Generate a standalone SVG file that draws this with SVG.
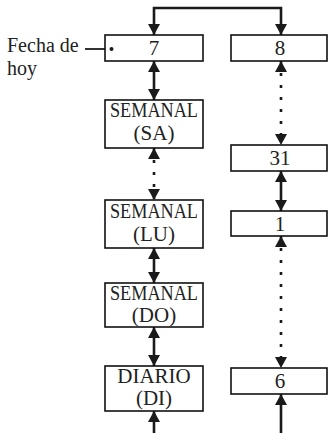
<svg xmlns="http://www.w3.org/2000/svg" width="328" height="433" viewBox="0 0 328 433">
<style>
.box{fill:#fff;stroke:#111;stroke-width:1.6}
.t{font-family:"Liberation Serif","Times New Roman",serif;font-size:21px;fill:#222;text-anchor:middle}
.lbl{font-family:"Liberation Serif","Times New Roman",serif;font-size:20px;fill:#222}
.c{fill:none;stroke:#1a1a1a;stroke-width:2.6}
.dot{stroke-dasharray:3 9}
</style>
<defs>
<marker id="ah" viewBox="0 0 12 12" refX="11" refY="6" markerWidth="12" markerHeight="12" markerUnits="userSpaceOnUse" orient="auto-start-reverse">
<path d="M0,0 L11,6 L0,12 z" fill="#1a1a1a"/>
</marker>
</defs>
<rect width="328" height="433" fill="#fff"/>
<g id="connectors">
<path class="c" d="M154,35 V8 H281 V35" marker-start="url(#ah)" marker-end="url(#ah)"/>
<path class="c" d="M154,61 V100" marker-start="url(#ah)" marker-end="url(#ah)"/>
<path class="c dot" d="M154,148 V200" marker-start="url(#ah)" marker-end="url(#ah)"/>
<path class="c" d="M154,248 V283" marker-start="url(#ah)" marker-end="url(#ah)"/>
<path class="c" d="M154,327 V366" marker-start="url(#ah)" marker-end="url(#ah)"/>
<path class="c" d="M154,440 V411" marker-end="url(#ah)"/>
<path class="c dot" d="M281,61 V145" marker-start="url(#ah)" marker-end="url(#ah)"/>
<path class="c" d="M281,171 V211" marker-start="url(#ah)" marker-end="url(#ah)"/>
<path class="c dot" d="M281,236 V368" marker-start="url(#ah)" marker-end="url(#ah)"/>
<path class="c" d="M281,440 V394" marker-end="url(#ah)"/>
<path d="M85,49 H111" stroke="#1a1a1a" stroke-width="1.8"/>
</g>
<g id="fecha">
<text class="lbl" x="7" y="52">Fecha de</text>
<text class="lbl" x="7" y="75">hoy</text>
</g>
<g id="n7"><rect class="box" x="105" y="35" width="98" height="26"/><circle cx="111.5" cy="49" r="2" fill="#1a1a1a"/><text class="t" x="154" y="55">7</text></g>
<g id="nSA"><rect class="box" x="105" y="100" width="98" height="48"/><text class="t" x="154" y="117" textLength="88" lengthAdjust="spacingAndGlyphs">SEMANAL</text><text class="t" x="154" y="140">(SA)</text></g>
<g id="nLU"><rect class="box" x="105" y="200" width="98" height="48"/><text class="t" x="154" y="218" textLength="88" lengthAdjust="spacingAndGlyphs">SEMANAL</text><text class="t" x="154" y="241">(LU)</text></g>
<g id="nDO"><rect class="box" x="105" y="283" width="98" height="44"/><text class="t" x="154" y="300" textLength="88" lengthAdjust="spacingAndGlyphs">SEMANAL</text><text class="t" x="154" y="322">(DO)</text></g>
<g id="nDI"><rect class="box" x="105" y="366" width="98" height="45"/><text class="t" x="154" y="383" font-size="20">DIARIO</text><text class="t" x="154" y="405" font-size="20">(DI)</text></g>
<g id="n8"><rect class="box" x="231" y="35" width="96" height="26"/><text class="t" x="280" y="55">8</text></g>
<g id="n31"><rect class="box" x="231" y="145" width="96" height="26"/><text class="t" x="280" y="165">31</text></g>
<g id="n1"><rect class="box" x="231" y="211" width="96" height="25"/><text class="t" x="280" y="231">1</text></g>
<g id="n6"><rect class="box" x="231" y="368" width="96" height="26"/><text class="t" x="280" y="388">6</text></g>
</svg>
